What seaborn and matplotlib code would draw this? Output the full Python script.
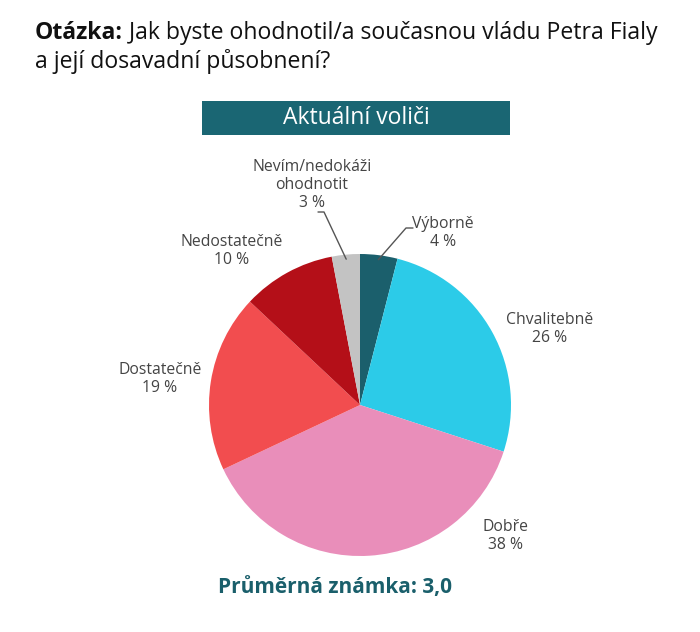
import matplotlib
matplotlib.use("Agg")
import matplotlib.pyplot as plt
import seaborn as sns
import numpy as np

categories = ["Výborně", "Chvalitebně", "Dobře", "Dostatečně", "Nedostatečně", "Nevím/nedokáži\nohodnotit"]
values = [4, 26, 38, 19, 10, 3]
value_labels = ["4 %", "26 %", "38 %", "19 %", "10 %", "3 %"]
colors = ["#1b5f6c", "#2ccbe8", "#e98eba", "#f24d4f", "#b40f18", "#c3c3c3"]
question_bold = "Otázka:"
question_text = " Jak byste ohodnotil/a současnou vládu Petra Fialy"
question_line2 = "a její dosavadní působnení?"
banner_text = "Aktuální voliči"
footer_text = "Průměrná známka: 3,0"

sns.set_theme(style="white")
plt.rcParams['font.family'] = ['Open Sans', 'DejaVu Sans']

W, H = 700, 632
fig = plt.figure(figsize=(W / 100, H / 100), dpi=100)
fig.patch.set_facecolor("white")

cx, cy, R = 360, 405, 151
ax = fig.add_axes([(cx - R) / W, (H - cy - R) / H, 2 * R / W, 2 * R / H])
ax.pie(values, colors=colors, startangle=90, counterclock=False,
       radius=1, wedgeprops=dict(linewidth=0))
ax.set_xlim(-1, 1)
ax.set_ylim(-1, 1)
ax.set_aspect("equal")
ax.axis("off")

def px2d(px, py):
    return (px - cx) / R, (cy - py) / R

text_col = "#444444"
fs = 11.3
# label centers (pixel positions) per category
label_pos = [(443, 233), (550, 329), (505, 536), (160, 379), (232, 251), (312, 185)]
for i, (cat, vl) in enumerate(zip(categories, value_labels)):
    x, y = px2d(*label_pos[i])
    ax.text(x, y, cat + "\n" + vl, ha="center", va="center", fontsize=fs,
            color=text_col, linespacing=1.2, clip_on=False)

# leader lines for small slices
cum = np.cumsum([0] + values)
def edge_point(i, r=0.97):
    mid = 90 - 3.6 * (cum[i] + values[i] / 2)
    return r * np.cos(np.radians(mid)), r * np.sin(np.radians(mid))

# Výborně
ex, ey = edge_point(0)
p1 = px2d(406, 228); p2 = px2d(413, 228)
ax.plot([ex, p1[0], p2[0]], [ey, p1[1], p2[1]], color="#555555", lw=1, clip_on=False)
# Nevím
ex, ey = edge_point(5)
p1 = px2d(324, 212); p2 = px2d(318, 212)
ax.plot([ex, p1[0], p2[0]], [ey, p1[1], p2[1]], color="#555555", lw=1, clip_on=False)

# title
tfs = 16.6
t1 = fig.text(35 / W, 1 - 33 / H, question_bold, fontsize=tfs, fontweight="bold",
              color="#111111", va="center", ha="left")
fig.canvas.draw()
bb = t1.get_window_extent()
fig.text(bb.x1 / W, 1 - 33 / H, question_text, fontsize=tfs, color="#111111",
         va="center", ha="left")
fig.text(35 / W, 1 - 61 / H, question_line2, fontsize=tfs, color="#111111",
         va="center", ha="left")

# banner
fig.patches.append(plt.Rectangle((202 / W, 1 - 135 / H), 308 / W, 34 / H,
                                 transform=fig.transFigure, facecolor="#1a6673",
                                 edgecolor="none"))
fig.text(356 / W, 1 - 118 / H, banner_text, fontsize=16.5, color="white",
         ha="center", va="center")

# footer
fig.text(335 / W, 1 - 588 / H, footer_text, fontsize=15, fontweight="bold",
         color="#1a5f6b", ha="center", va="center")

fig.savefig("out.png", dpi=100, facecolor="white")
